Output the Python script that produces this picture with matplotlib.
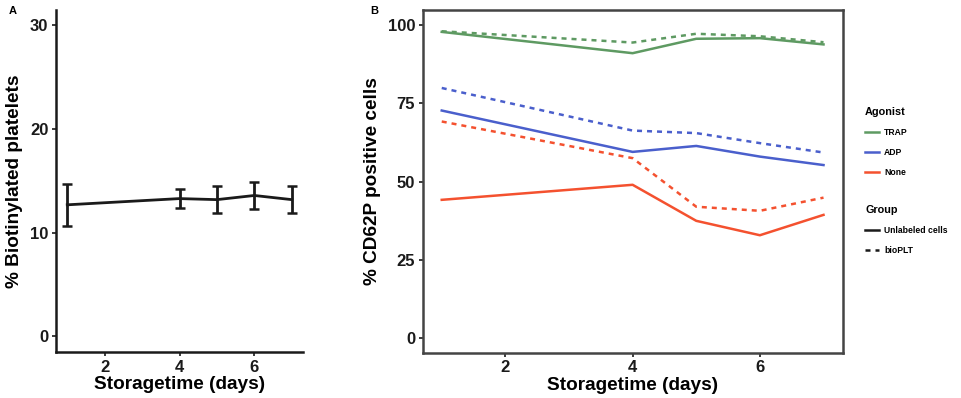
import matplotlib.pyplot as plt
import numpy as np

plt.rcParams['font.family'] = ['Liberation Sans', 'DejaVu Sans']
plt.rcParams['font.weight'] = 'bold'

# panel A
days_a = [1, 4, 5, 6, 7]
biot_mean = [12.7, 13.3, 13.2, 13.6, 13.2]
biot_lo = [10.7, 12.4, 11.9, 12.3, 11.9]
biot_hi = [14.7, 14.2, 14.5, 14.9, 14.5]

# panel B
days_b = [1, 4, 5, 6, 7]
agonists = ['TRAP', 'ADP', 'None']
colors = {'TRAP': '#5e9a62', 'ADP': '#4a5fcc', 'None': '#f4512f'}
unlabeled = {
    'TRAP': [97.8, 91.0, 95.6, 95.8, 93.8],
    'ADP': [72.7, 59.5, 61.4, 58.0, 55.3],
    'None': [44.2, 49.0, 37.5, 32.9, 39.4],
}
bioplt = {
    'TRAP': [98.0, 94.4, 97.2, 96.4, 94.5],
    'ADP': [79.9, 66.3, 65.5, 62.3, 59.3],
    'None': [69.2, 57.5, 42.0, 40.7, 44.9],
}

fig = plt.figure(figsize=(9.61, 3.98), dpi=100)
axA = fig.add_axes([0.0583, 0.1156, 0.257, 0.8594])
axB = fig.add_axes([0.4398, 0.1137, 0.437, 0.8613])

m = np.array(biot_mean)
yerr = [m - np.array(biot_lo), np.array(biot_hi) - m]
axA.errorbar(days_a, biot_mean, yerr=yerr, color='#1a1a1a', lw=2, capsize=3.5,
             elinewidth=2, capthick=1.8)
axA.set_xlim(0.7, 7.3)
axA.set_ylim(-1.5, 31.5)
axA.set_xticks([2, 4, 6])
axA.set_yticks([0, 10, 20, 30])
for s in ['top', 'right']:
    axA.spines[s].set_visible(False)
for s in ['left', 'bottom']:
    axA.spines[s].set_linewidth(1.8)
    axA.spines[s].set_color('#1a1a1a')
axA.tick_params(labelsize=12, length=3, width=1.2, colors='#1a1a1a', pad=2.5)
axA.set_xlabel('Storagetime (days)', fontsize=13.7, fontweight='bold', labelpad=1)
axA.set_ylabel('% Biotinylated platelets', fontsize=13.7, fontweight='bold', labelpad=5)
fig.text(0.009, 0.965, 'A', fontsize=8, fontweight='bold')

for ag in agonists:
    axB.plot(days_b, unlabeled[ag], color=colors[ag], lw=1.8)
    axB.plot(days_b, bioplt[ag], color=colors[ag], lw=1.8, dashes=(2, 2))
axB.set_xlim(0.7, 7.3)
axB.set_ylim(-4.6, 104.8)
axB.set_xticks([2, 4, 6])
axB.set_yticks([0, 25, 50, 75, 100])
for s in axB.spines.values():
    s.set_linewidth(1.8)
    s.set_color('#444444')
axB.tick_params(labelsize=12, length=3, width=1.2, colors='#1a1a1a', pad=2.5)
axB.set_xlabel('Storagetime (days)', fontsize=13.7, fontweight='bold', labelpad=1)
axB.set_ylabel('% CD62P positive cells', fontsize=13.7, fontweight='bold', labelpad=5)
fig.text(0.385, 0.965, 'B', fontsize=8, fontweight='bold')

h1 = [plt.Line2D([], [], color=colors[ag], lw=1.8) for ag in agonists]
leg1 = axB.legend(h1, agonists, title='Agonist', loc='upper left',
                  bbox_to_anchor=(1.035, 0.74), frameon=False, fontsize=6.2,
                  title_fontproperties={'weight': 'bold', 'size': 7.8},
                  handlelength=1.6, handletextpad=0.6, labelspacing=1.3,
                  alignment='left')
axB.add_artist(leg1)
h2 = [plt.Line2D([], [], color='#1a1a1a', lw=1.8),
      plt.Line2D([], [], color='#1a1a1a', lw=1.8, dashes=(2, 2))]
axB.legend(h2, ['Unlabeled cells', 'bioPLT'], title='Group', loc='upper left',
           bbox_to_anchor=(1.035, 0.455), frameon=False, fontsize=6.2,
           title_fontproperties={'weight': 'bold', 'size': 7.8},
           handlelength=1.6, handletextpad=0.6, labelspacing=1.3,
           alignment='left')

fig.savefig('out.png', dpi=100)
